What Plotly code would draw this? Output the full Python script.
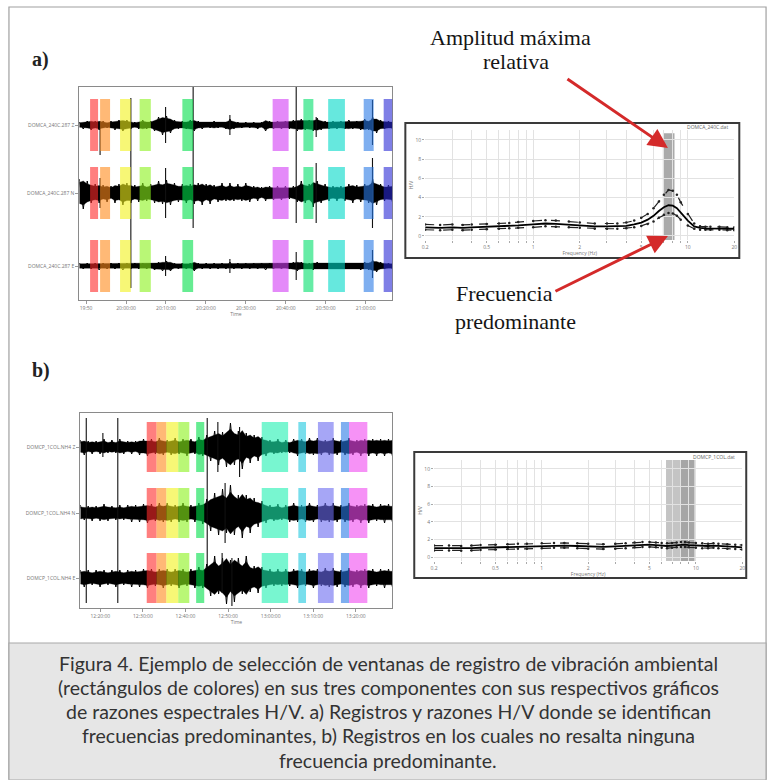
import numpy as np
import plotly.graph_objects as go

W, H = 775, 780

# ---------------- DATA ----------------
# Panel a) - seismograms: half-amplitude envelope samples (one per ~1 min)
a_trace_labels = ["DOMCA_240C.287 Z", "DOMCA_240C.287 N", "DOMCA_240C.287 E"]
a_amp_z = [3, 4, 4, 5, 4, 5, 4, 3, 4, 5,
           5, 6, 5, 4, 3, 4, 5, 4, 4, 6,
           8, 10, 9, 8, 5, 4, 4, 4, 5, 6,
           4, 4, 3, 3, 4, 3, 3, 4, 6, 4,
           3, 3, 3, 3, 3, 4, 3, 6, 4, 4,
           4, 4, 4, 4, 5, 6, 6, 5, 5, 6,
           7, 5, 4, 4, 4, 4, 4, 4, 5, 4,
           4, 5, 6, 5, 8, 8, 5, 4, 4, 4]
a_amp_n = [14, 16, 12, 10, 9, 10, 8, 9, 7, 10,
           9, 12, 10, 10, 8, 9, 10, 8, 9, 10,
           12, 11, 13, 12, 10, 9, 9, 10, 9, 11,
           10, 12, 9, 11, 8, 9, 10, 8, 10, 8,
           9, 8, 10, 9, 7, 8, 6, 8, 7, 7,
           7, 7, 7, 6, 7, 9, 12, 10, 9, 14,
           12, 10, 9, 8, 7, 8, 7, 8, 9, 10,
           8, 9, 9, 10, 14, 12, 9, 8, 8, 9]
a_amp_e = [3, 3, 3, 3, 3, 4, 3, 3, 3, 3,
           3, 4, 3, 3, 3, 3, 3, 3, 3, 4,
           4, 5, 5, 5, 3, 3, 3, 3, 3, 5,
           3, 3, 3, 3, 3, 3, 3, 3, 4, 3,
           3, 3, 3, 3, 3, 3, 3, 4, 3, 3,
           3, 3, 3, 3, 4, 5, 4, 3, 3, 4,
           4, 3, 3, 3, 3, 3, 3, 3, 3, 3,
           3, 4, 4, 4, 6, 6, 4, 3, 3, 3]
# spikes: time (min), excursion up, excursion down
a_spk_z = dict(t=[5.2, 21.6, 37.7, 59.3, 73.4], up=[4, 18, 10, 8, 25], down=[30, 18, 10, 12, 20])
a_spk_n = dict(t=[5.2, 12.9, 21.6, 28.5, 54.3, 59.3, 73.4],
               up=[15, 95, 25, 106, 106, 30, 35], down=[15, 95, 25, 35, 30, 30, 35])
a_spk_e = dict(t=[21.6, 37.7, 54.3, 73.4], up=[10, 7, 14, 16], down=[10, 7, 14, 12])
a_duration_min = 78.4
a_time_ticks = [1.7, 11.7, 21.7, 31.7, 41.7, 51.7, 61.7, 71.7]
a_time_labels = ["19:50", "20:00:00", "20:10:00", "20:20:00", "20:30:00",
                 "20:40:00", "20:50:00", "21:00:00"]
a_win_start = [2.7, 5.2, 10.2, 15.1, 25.8, 48.4, 56.1, 62.3, 71.2, 76.2]
a_win_end = [4.7, 7.7, 12.9, 17.9, 28.5, 52.4, 58.6, 66.5, 73.7, 78.4]
a_win_colors = ["#ff2a2a", "#ff8a1a", "#f2f21a", "#8af21a", "#00e04a",
                "#d23cf5", "#00e06a", "#00d8c8", "#2a7ae6", "#2a2ad6"]

# Panel b) - seismograms
b_trace_labels = ["DOMCP_1COL.NH4 Z", "DOMCP_1COL.NH4 N", "DOMCP_1COL.NH4 E"]
b_amp_z = [7, 8, 6, 7, 6, 7, 8, 6, 7, 6,
           8, 7, 6, 7, 6, 8, 8, 9, 8, 7,
           9, 8, 7, 8, 9, 7, 8, 9, 8, 7,
           10, 9, 12, 14, 16, 18, 15, 20, 24, 18,
           16, 22, 14, 16, 12, 14, 10, 9, 7, 7,
           8, 6, 7, 6, 8, 9, 8, 7, 9, 8,
           9, 8, 7, 8, 9, 8, 7, 8, 9, 8,
           7, 9, 8, 9, 8, 9, 8, 9, 8, 9]
b_amp_n = [8, 7, 7, 8, 7, 8, 9, 8, 7, 7,
           8, 7, 8, 9, 8, 9, 9, 10, 9, 8,
           10, 9, 10, 9, 8, 9, 10, 9, 8, 9,
           10, 11, 14, 18, 20, 22, 24, 20, 28, 22,
           18, 25, 18, 20, 15, 14, 12, 10, 8, 8,
           9, 7, 8, 9, 10, 9, 8, 9, 10, 9,
           8, 9, 10, 9, 10, 9, 8, 9, 10, 9,
           8, 10, 9, 10, 9, 8, 9, 10, 9, 9]
b_amp_e = [8, 9, 8, 7, 8, 9, 8, 7, 8, 9,
           8, 7, 8, 9, 8, 9, 9, 10, 9, 8,
           9, 10, 9, 8, 9, 10, 9, 8, 9, 10,
           11, 10, 14, 18, 22, 16, 20, 26, 18, 24,
           20, 16, 22, 14, 12, 15, 11, 10, 9, 8,
           9, 8, 9, 8, 9, 10, 9, 8, 9, 10,
           9, 8, 10, 9, 10, 9, 8, 9, 10, 9,
           8, 10, 9, 10, 9, 8, 9, 10, 9, 9]
b_spk_z = dict(t=[5.3, 32.3, 37.4], up=[14, 25, 20], down=[10, 25, 30])
b_spk_n = dict(t=[1.4, 8.8, 29.8, 34.0], up=[95, 95, 95, 30], down=[90, 90, 60, 30])
b_spk_e = dict(t=[33.3, 35.6], up=[25, 20], down=[15, 28])
b_duration_min = 73.3
b_time_ticks = [4.7, 14.7, 24.7, 34.7, 44.7, 54.7, 64.7]
b_time_labels = ["12:20:00", "12:30:00", "12:40:00", "12:50:00",
                 "13:00:00", "13:10:00", "13:20:00"]
b_win_start = [15.6, 17.9, 20.2, 23.0, 27.2, 42.6, 51.2, 55.8, 61.2, 63.1]
b_win_end = [17.9, 20.2, 23.0, 25.6, 29.1, 48.8, 53.0, 59.5, 63.1, 67.4]
b_win_colors = ["#ff2a2a", "#ff8a1a", "#f2f21a", "#8af21a", "#00e04a",
                "#1ef0b0", "#1ec8e0", "#6a6af0", "#2a7ae6", "#f04af0"]

# H/V spectral ratios
freq_hz = [0.2, 0.25, 0.3, 0.35, 0.4, 0.5, 0.6, 0.7, 0.8, 1.0, 1.2, 1.4,
           1.7, 2.0, 2.5, 3.0, 3.5, 4.0, 4.5, 5.0, 5.5, 6.0, 6.5, 7.0,
           7.5, 8.0, 8.5, 9.0, 10, 11, 12, 13, 14, 16, 18, 20]
a_hv_mean = [0.9, 0.85, 0.9, 0.85, 0.9, 0.95, 1.0, 1.05, 1.1, 1.2, 1.3, 1.25,
             1.15, 1.1, 1.0, 1.0, 1.0, 1.05, 1.2, 1.4, 1.7, 2.1, 2.6, 3.0,
             3.2, 3.15, 2.9, 2.4, 1.6, 1.0, 0.85, 0.8, 0.8, 0.8, 0.75, 0.75]
a_hv_upper = [1.2, 1.15, 1.2, 1.15, 1.2, 1.25, 1.3, 1.35, 1.45, 1.55, 1.65, 1.6,
              1.5, 1.4, 1.3, 1.3, 1.3, 1.4, 1.6, 1.9, 2.3, 2.9, 3.6, 4.3,
              4.8, 4.7, 4.3, 3.5, 2.3, 1.3, 1.0, 0.95, 0.95, 0.95, 0.9, 0.9]
a_hv_lower = [0.65, 0.6, 0.65, 0.6, 0.65, 0.7, 0.75, 0.8, 0.85, 0.9, 1.0, 0.95,
              0.9, 0.85, 0.75, 0.75, 0.75, 0.8, 0.9, 1.05, 1.25, 1.5, 1.9, 2.2,
              2.4, 2.35, 2.1, 1.7, 1.1, 0.75, 0.65, 0.65, 0.65, 0.65, 0.6, 0.6]
a_peak_band = [6.9, 8.2]
b_hv_mean = [1.0, 1.0, 0.95, 1.0, 1.05, 1.1, 1.15, 1.2, 1.2, 1.25, 1.3, 1.3,
             1.25, 1.2, 1.15, 1.2, 1.25, 1.35, 1.4, 1.4, 1.35, 1.3, 1.25, 1.3,
             1.35, 1.4, 1.4, 1.35, 1.3, 1.25, 1.25, 1.3, 1.25, 1.2, 1.15, 1.1]
b_hv_upper = [1.3, 1.3, 1.25, 1.3, 1.35, 1.4, 1.45, 1.5, 1.5, 1.55, 1.6, 1.6,
              1.55, 1.5, 1.45, 1.5, 1.55, 1.65, 1.7, 1.7, 1.65, 1.6, 1.55, 1.6,
              1.65, 1.7, 1.7, 1.65, 1.6, 1.55, 1.5, 1.55, 1.5, 1.45, 1.4, 1.35]
b_hv_lower = [0.75, 0.75, 0.7, 0.75, 0.8, 0.85, 0.9, 0.95, 0.95, 1.0, 1.05, 1.05,
              1.0, 0.95, 0.9, 0.95, 1.0, 1.1, 1.15, 1.15, 1.1, 1.05, 1.0, 1.05,
              1.1, 1.15, 1.15, 1.1, 1.05, 1.0, 1.0, 1.05, 1.0, 0.95, 0.9, 0.85]
b_peak_band_light = [6.4, 8.0]
b_peak_band_dark = [8.0, 9.8]

hv_grid_freqs = [0.2, 0.3, 0.4, 0.5, 0.6, 0.7, 0.8, 0.9, 1, 2, 3, 4, 5, 6, 7, 8, 9, 10, 20]
hv_grid_labels = ["0.2", "", "", "0.5", "", "", "", "", "1", "2", "", "", "5",
                  "", "", "", "", "10", "20"]
hv_y_ticks = [0, 2, 4, 6, 8, 10]

caption_lines = [
    "Figura 4. Ejemplo de selección de ventanas de registro de vibración ambiental",
    "(rectángulos de colores) en sus tres componentes con sus respectivos gráficos",
    "de razones espectrales H/V. a) Registros y razones H/V donde se identifican",
    "frecuencias predominantes, b) Registros en los cuales no resalta ninguna",
    "frecuencia predominante.",
]


# ---------------- helpers ----------------
def px(p):
    return p / W


def py(p):
    return 1 - p / H


fig = go.Figure()
shapes = []
annotations = []


def add_seismo(xa, ya, duration, amps, spikes, offsets, starts, ends, colors, half):
    for amp, spk, off in zip(amps, spikes, offsets):
        n = len(amp)
        a = np.array(amp, float)
        t = np.linspace(0, duration, n)
        # filled core of the trace
        fig.add_trace(go.Scatter(x=np.concatenate([t, t[::-1]]),
                                 y=np.concatenate([off + 0.75 * a, (off - 0.75 * a)[::-1]]),
                                 mode="lines", fill="toself", fillcolor="black",
                                 line=dict(color="black", width=0.3),
                                 xaxis=xa, yaxis=ya, hoverinfo="skip"))
        # oscillating outline
        sign = np.where(np.arange(n) % 2 == 0, 1.0, -1.0)
        fig.add_trace(go.Scatter(x=t, y=off + sign * a, mode="lines",
                                 line=dict(color="black", width=1.0),
                                 xaxis=xa, yaxis=ya, hoverinfo="skip"))
        # spikes
        sx, sy = [], []
        for tt, u, d in zip(spk["t"], spk["up"], spk["down"]):
            sx += [tt, tt, None]
            sy += [off - d, off + u, None]
        fig.add_trace(go.Scatter(x=sx, y=sy, mode="lines", line=dict(color="#111", width=1.1),
                                 xaxis=xa, yaxis=ya, hoverinfo="skip"))
        for s, e, c in zip(starts, ends, colors):
            shapes.append(dict(type="rect", xref=xa, yref=ya, x0=s, x1=e,
                               y0=off - half, y1=off + half, fillcolor=c,
                               opacity=0.6, line=dict(width=0), layer="above"))


a_offsets = [175, 107, 34]
b_offsets = [161, 95, 30]
add_seismo("x", "y", a_duration_min, [a_amp_z, a_amp_n, a_amp_e], [a_spk_z, a_spk_n, a_spk_e],
           a_offsets, a_win_start, a_win_end, a_win_colors, 26)
add_seismo("x3", "y3", b_duration_min, [b_amp_z, b_amp_n, b_amp_e], [b_spk_z, b_spk_n, b_spk_e],
           b_offsets, b_win_start, b_win_end, b_win_colors, 25)


def add_hv(xa, ya, mean, up, lo):
    for curve in (up, lo):
        fig.add_trace(go.Scatter(x=freq_hz, y=curve, mode="lines+markers",
                                 line=dict(color="#222", width=1.2, dash="dash"),
                                 marker=dict(size=2.5, color="#222"),
                                 xaxis=xa, yaxis=ya, hoverinfo="skip"))
    fig.add_trace(go.Scatter(x=freq_hz, y=mean, mode="lines",
                             line=dict(color="black", width=1.8),
                             xaxis=xa, yaxis=ya, hoverinfo="skip"))


add_hv("x2", "y2", a_hv_mean, a_hv_upper, a_hv_lower)
add_hv("x4", "y4", b_hv_mean, b_hv_upper, b_hv_lower)

# peak bands
shapes.append(dict(type="rect", xref="x2", yref="y2 domain", x0=a_peak_band[0], x1=a_peak_band[1],
                   y0=0.0, y1=0.97, fillcolor="#aaaaaa", line=dict(width=0), layer="below"))
shapes.append(dict(type="rect", xref="x4", yref="y4 domain", x0=b_peak_band_light[0], x1=b_peak_band_light[1],
                   y0=0.0, y1=1.0, fillcolor="#c4c4c4", line=dict(width=0), layer="below"))
shapes.append(dict(type="rect", xref="x4", yref="y4 domain", x0=b_peak_band_dark[0], x1=b_peak_band_dark[1],
                   y0=0.0, y1=1.0, fillcolor="#a6a6a6", line=dict(width=0), layer="below"))

# frames
shapes.append(dict(type="rect", xref="paper", yref="paper", x0=px(5), x1=px(769), y0=py(779), y1=py(7),
                   line=dict(color="#a0a0a0", width=1.2), fillcolor="rgba(0,0,0,0)", layer="below"))
shapes.append(dict(type="rect", xref="paper", yref="paper", x0=px(5), x1=px(769), y0=py(780), y1=py(643),
                   line=dict(color="#a8a8a8", width=1.2), fillcolor="#e6e6e6", layer="below"))
shapes.append(dict(type="rect", xref="paper", yref="paper", x0=px(405), x1=px(742), y0=py(258), y1=py(123),
                   line=dict(color="#3a3a3a", width=2), fillcolor="rgba(0,0,0,0)", layer="above"))
shapes.append(dict(type="rect", xref="paper", yref="paper", x0=px(414), x1=px(749), y0=py(578), y1=py(452),
                   line=dict(color="#3a3a3a", width=2), fillcolor="rgba(0,0,0,0)", layer="above"))

# text
serif = "Liberation Serif"
big = dict(family=serif, size=22, color="#151515")


def note(text, x, y, font, xanchor="center"):
    return dict(text=text, x=px(x), y=py(y), xref="paper", yref="paper", xanchor=xanchor,
                yanchor="middle", showarrow=False, font=font)


annotations += [
    note("<b>a)</b>", 26, 60, dict(family=serif, size=20, color="#222"), "left"),
    note("<b>b)</b>", 26, 370, dict(family=serif, size=20, color="#222"), "left"),
    note("Amplitud máxima", 511, 37, big),
    note("relativa", 517, 62, big),
    note("Frecuencia", 505, 293, big),
    note("predominante", 516, 321, big),
    note("DOMCA_240C.dat", 733, 127, dict(size=5, color="#666"), "right"),
    note("DOMCP_1COL.dat", 740, 457, dict(size=5, color="#666"), "right"),
    dict(text="", x=px(670), y=py(148), xref="paper", yref="paper", showarrow=True,
         ax=-102, ay=-70, arrowhead=2, arrowsize=1.3, arrowwidth=3, arrowcolor="#d42a2a"),
    dict(text="", x=px(670), y=py(236), xref="paper", yref="paper", showarrow=True,
         ax=-114, ay=56, arrowhead=2, arrowsize=1.3, arrowwidth=3, arrowcolor="#d42a2a"),
]
for i, line in enumerate(caption_lines):
    annotations.append(note(line, 387.5, 663 + 24.3 * i, dict(family="Lato", size=19.5, color="#333")))

tiny = dict(size=5, color="#777")


def seis_x(dom, dur, ticks, labels, anchor):
    return dict(domain=dom, range=[0, dur], showgrid=False, zeroline=False, showline=True,
                mirror=True, linecolor="#8a8a8a", linewidth=1, tickvals=ticks, ticktext=labels,
                ticks="outside", ticklen=3, tickcolor="#999", tickfont=tiny,
                title=dict(text="Time", font=tiny, standoff=1), anchor=anchor)


def seis_y(dom, rng, offs, labels, anchor):
    return dict(domain=dom, range=rng, showgrid=False, zeroline=False, showline=True,
                mirror=True, linecolor="#8a8a8a", linewidth=1, tickvals=offs, ticktext=labels,
                ticks="outside", ticklen=3, tickcolor="#999", tickfont=tiny, anchor=anchor)


def hv_x(dom, anchor):
    return dict(domain=dom, type="log", range=[np.log10(0.2), np.log10(20)], showgrid=True,
                gridcolor="#e2e2e2", gridwidth=1, zeroline=False, showline=False,
                tickvals=hv_grid_freqs, ticktext=hv_grid_labels, ticks="outside", ticklen=2,
                tickcolor="#aaa", tickfont=tiny,
                title=dict(text="Frequency (Hz)", font=tiny, standoff=1), anchor=anchor)


def hv_y(dom, rng, anchor):
    return dict(domain=dom, range=rng, showgrid=True, gridcolor="#e2e2e2", zeroline=False,
                showline=False, tickvals=hv_y_ticks, ticks="outside", ticklen=2, tickcolor="#aaa",
                tickfont=tiny, title=dict(text="H/V", font=tiny, standoff=1), anchor=anchor)


fig.update_layout(
    width=W, height=H, margin=dict(l=0, r=0, t=0, b=0),
    paper_bgcolor="white", plot_bgcolor="white", showlegend=False,
    xaxis=seis_x([px(76), px(392)], a_duration_min, a_time_ticks, a_time_labels, "y"),
    yaxis=seis_y([py(300), py(87)], [0, 213], a_offsets, a_trace_labels, "x"),
    xaxis2=hv_x([px(425), px(737)], "y2"),
    yaxis2=hv_y([py(240), py(130)], [-0.42, 11.04], "x2"),
    xaxis3=seis_x([px(77), px(392)], b_duration_min, b_time_ticks, b_time_labels, "y3"),
    yaxis3=seis_y([py(608), py(413)], [0, 195], b_offsets, b_trace_labels, "x3"),
    xaxis4=hv_x([px(434), px(745)], "y4"),
    yaxis4=hv_y([py(561), py(460)], [-0.45, 11.0], "x4"),
    shapes=shapes, annotations=annotations,
)

fig.write_html("out.html")
